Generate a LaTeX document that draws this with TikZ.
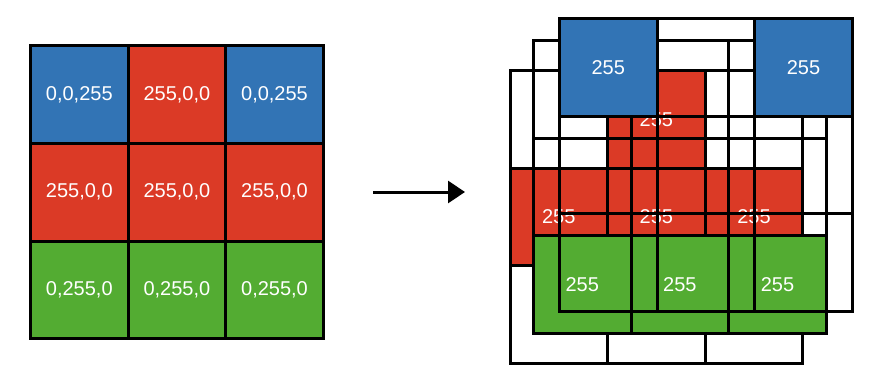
\documentclass[tikz,border=0pt]{standalone}
\usepackage{fontspec}
\setmainfont{Liberation Sans}
\usetikzlibrary{arrows.meta}
\definecolor{cblue}{HTML}{3274B5}
\definecolor{cred}{HTML}{DB3A26}
\definecolor{cgreen}{HTML}{53AC32}
\newcommand\drawgridat[2]{%
  \begin{scope}[shift={(#1,#2)}]
    \draw[gridline] (0,0) rectangle (292.8,292.8);
    \draw[gridline] (97.6,0) -- (97.6,292.8);
    \draw[gridline] (195.2,0) -- (195.2,292.8);
    \draw[gridline] (0,97.6) -- (292.8,97.6);
    \draw[gridline] (0,195.2) -- (292.8,195.2);
  \end{scope}}
\begin{document}
\begin{tikzpicture}[x=1pt,y=-1pt,
  cell/.style={minimum width=97.6pt, minimum height=97.6pt, inner sep=0pt,
    text=white, font=\fontsize{20}{22}\selectfont},
  gridline/.style={line width=3pt, draw=black},
  arrowline/.style={line width=3pt, -{Triangle[length=17pt,width=22pt]}}]
\useasboundingbox (0,0) rectangle (880,386);
% ---------- left grid ----------
\node[cell,fill=cblue]  (a11) at (79.3,94.6)  {0,0,255};
\node[cell,fill=cred]   (a12) at (176.9,94.6) {255,0,0};
\node[cell,fill=cblue]  (a13) at (274.5,94.6) {0,0,255};
\node[cell,fill=cred]   (a21) at (79.3,192.2)  {255,0,0};
\node[cell,fill=cred]   (a22) at (176.9,192.2) {255,0,0};
\node[cell,fill=cred]   (a23) at (274.5,192.2) {255,0,0};
\node[cell,fill=cgreen] (a31) at (79.3,289.8)  {0,255,0};
\node[cell,fill=cgreen] (a32) at (176.9,289.8) {0,255,0};
\node[cell,fill=cgreen] (a33) at (274.5,289.8) {0,255,0};
\drawgridat{30.5}{45.8}
% ---------- arrow ----------
\coordinate (arrs) at (373,192);
\coordinate (arre) at (465,192);
\draw[arrowline] (arrs) -- (arre);
% ---------- red layer (back) ----------
\node[cell,fill=cred] (r12) at (656.4,119.3) {255};
\node[cell,fill=cred] (r21) at (558.8,216.9) {255};
\node[cell,fill=cred] (r22) at (656.4,216.9) {255};
\node[cell,fill=cred] (r23) at (754.0,216.9) {255};
\drawgridat{510}{70.5}
% ---------- green layer ----------
\node[cell,fill=cgreen] (g31) at (582.3,284.5) {255};
\node[cell,fill=cgreen] (g32) at (679.9,284.5) {255};
\node[cell,fill=cgreen] (g33) at (777.5,284.5) {255};
\drawgridat{533.5}{40.5}
% ---------- blue layer (front) ----------
\node[cell,fill=cblue] (b11) at (608.3,67.3) {255};
\node[cell,fill=cblue] (b13) at (803.5,67.3) {255};
\drawgridat{559.5}{18.5}
\end{tikzpicture}
\end{document}
